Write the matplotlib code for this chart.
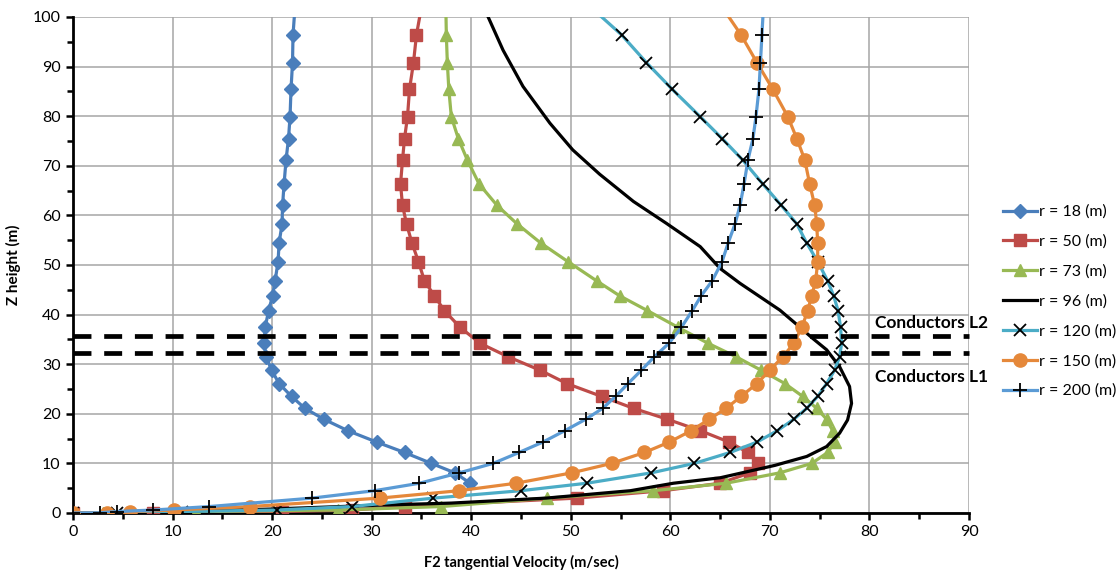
import numpy as np
import matplotlib.pyplot as plt
from matplotlib.ticker import MultipleLocator

plt.rcParams['font.family'] = ['Lato', 'DejaVu Sans']

# Heights of the sampled levels (m), top to bottom; 102 lies just above the plot
z = [102.0, 96.4, 90.8, 85.4, 79.9, 75.5, 71.2, 66.3, 62.0, 58.3, 54.4, 50.7, 46.8,
     43.8, 40.8, 37.4, 34.2, 31.5, 28.8, 26.1, 23.5, 21.1, 18.9, 16.6, 14.3,
     12.2, 10.0, 8.1, 6.0, 4.5, 3.0, 1.3, 0.6, 0.3, 0.05, 0.0]

# r = 18 m stops at the 6 m level
v18 = [22.3, 22.1, 22.05, 21.9, 21.8, 21.65, 21.4, 21.2, 21.05, 21.0, 20.7, 20.6, 20.3,
       20.05, 19.65, 19.3, 19.2, 19.4, 19.95, 20.7, 21.95, 23.3, 25.2, 27.6, 30.5,
       33.3, 36.0, 38.35, 39.9]
v50 = [35.0, 34.5, 34.2, 33.8, 33.6, 33.3, 33.1, 32.9, 33.1, 33.5, 34.05, 34.7, 35.3,
       36.3, 37.3, 38.9, 40.9, 43.7, 46.9, 49.6, 53.1, 56.3, 59.7, 63.0, 65.9,
       67.8, 68.8, 68.0, 65.0, 59.3, 50.6, 33.3, 28.0, 21.0, 8.0, 0.0]
v73 = [37.45, 37.5, 37.6, 37.75, 38.0, 38.7, 39.6, 40.8, 42.6, 44.6, 47.0, 49.7, 52.6,
       54.9, 57.7, 60.8, 63.8, 66.6, 69.1, 71.5, 73.3, 74.7, 75.7, 76.3, 76.5,
       75.8, 74.2, 71.0, 65.6, 58.3, 47.6, 37.0, 26.6, 12.4, 3.0, 0.0]
v120 = [52.0, 55.1, 57.6, 60.2, 63.0, 65.2, 67.25, 69.3, 71.15, 72.7, 73.7, 74.8, 75.8,
        76.4, 76.85, 77.1, 77.2, 77.0, 76.5, 75.7, 74.8, 73.7, 72.4, 70.75, 68.7,
        66.0, 62.4, 58.1, 51.6, 45.0, 36.2, 28.0, 20.45, 10.9, 4.4, 0.0]
v150 = [65.2, 67.1, 68.7, 70.3, 71.8, 72.7, 73.5, 74.0, 74.5, 74.7, 74.8, 74.8, 74.6,
        74.2, 73.8, 73.2, 72.4, 71.3, 70.0, 68.7, 67.1, 65.6, 63.9, 62.1, 59.9,
        57.4, 54.1, 50.1, 44.5, 38.8, 30.8, 17.8, 10.1, 5.7, 3.4, 0.0]
v200 = [69.35, 69.2, 69.05, 68.9, 68.6, 68.3, 67.8, 67.4, 67.0, 66.5, 65.8, 65.2, 64.2,
        63.1, 62.2, 61.1, 59.85, 58.4, 57.1, 55.75, 54.5, 53.2, 51.5, 49.4, 47.2,
        44.8, 42.2, 38.8, 34.8, 30.3, 24.0, 13.7, 8.06, 4.45, 2.7, 0.0]

# r = 96 m has no markers, own set of points
z96 = [100.0, 93.3, 86.0, 78.6, 73.2, 68.3, 62.8, 58.4, 53.7, 49.3, 46.3, 43.6, 40.9,
       38.0, 35.2, 32.9, 29.5, 25.5, 22.1, 18.75, 16.1, 13.4, 11.4, 9.6, 7.1, 6.0,
       4.5, 3.0, 2.0, 1.6, 0.8, 0.3, 0.0]
v96 = [41.7, 43.2, 45.2, 47.9, 50.2, 52.9, 56.3, 59.6, 63.0, 65.0, 67.0, 69.0, 71.0,
       72.7, 74.3, 75.7, 77.0, 78.0, 78.2, 77.8, 77.0, 75.7, 73.7, 70.5, 65.0, 60.3,
       56.0, 47.5, 38.0, 31.0, 20.0, 10.0, 0.0]

conductor_z = [35.7, 32.3]
conductor_names = ['Conductors L2', 'Conductors L1']
conductor_label_z = [38.3, 27.4]

fig = plt.figure(figsize=(11.16, 5.70), dpi=100)
ax = fig.add_axes([0.0654, 0.1, 0.8029, 0.8702])

lw = 2.3
ax.plot(v18, z[:len(v18)], color='#4A7EBB', lw=lw, marker='D', ms=7.5,
        label='r = 18 (m)')
ax.plot(v50, z, color='#BE4B48', lw=lw, marker='s', ms=8, label='r = 50 (m)')
ax.plot(v73, z, color='#98B954', lw=lw, marker='^', ms=8.5, label='r = 73 (m)')
ax.plot(v96, z96, color='black', lw=2.3, label='r = 96 (m)')
ax.plot(v120, z, color='#4BACC6', lw=lw, marker='x', ms=8.5, mec='black', mew=1.3,
        label='r = 120 (m)')
ax.plot(v150, z, color='#E5883A', lw=lw, marker='o', ms=9.5, label='r = 150 (m)')
ax.plot(v200, z, color='#5B9BD5', lw=lw, marker='+', ms=9.5, mec='black', mew=1.3,
        label='r = 200 (m)')

for h, name, lz in zip(conductor_z, conductor_names, conductor_label_z):
    ax.plot([0, 90], [h, h], color='black', lw=3.4, ls=(0, (3.8, 2.7)),
            solid_capstyle='butt', dash_capstyle='butt', clip_on=False)
    ax.text(80.6, lz, name, fontsize=12.5, fontweight='bold', va='center', ha='left')

ax.set_xlim(0, 90)
ax.set_ylim(0, 100)
ax.xaxis.set_major_locator(MultipleLocator(10))
ax.xaxis.set_minor_locator(MultipleLocator(5))
ax.yaxis.set_major_locator(MultipleLocator(10))
ax.yaxis.set_minor_locator(MultipleLocator(5))
ax.grid(True, which='major', color='#A6A6A6', lw=1.1)
ax.set_axisbelow(True)
for s in ['top', 'right']:
    ax.spines[s].set_visible(False)
for s in ['left', 'bottom']:
    ax.spines[s].set_linewidth(2.0)
    ax.spines[s].set_zorder(1.5)
ax.tick_params(which='major', direction='out', length=5, width=1.8, labelsize=11.5,
               colors='black', pad=4)
ax.tick_params(which='minor', direction='out', length=4, width=1.8)

ax.set_xlabel('F2 tangential Velocity (m/sec)', fontsize=10.5, fontweight='bold',
              labelpad=11)
ax.set_ylabel('Z height (m)', fontsize=11, fontweight='bold', labelpad=8)

ax.legend(loc='upper left', bbox_to_anchor=(0.893, 0.652), bbox_transform=fig.transFigure,
          frameon=False, fontsize=11.5, handlelength=2.1, handletextpad=0.15,
          labelspacing=0.97, borderaxespad=0)

fig.savefig('out.png', dpi=100)
